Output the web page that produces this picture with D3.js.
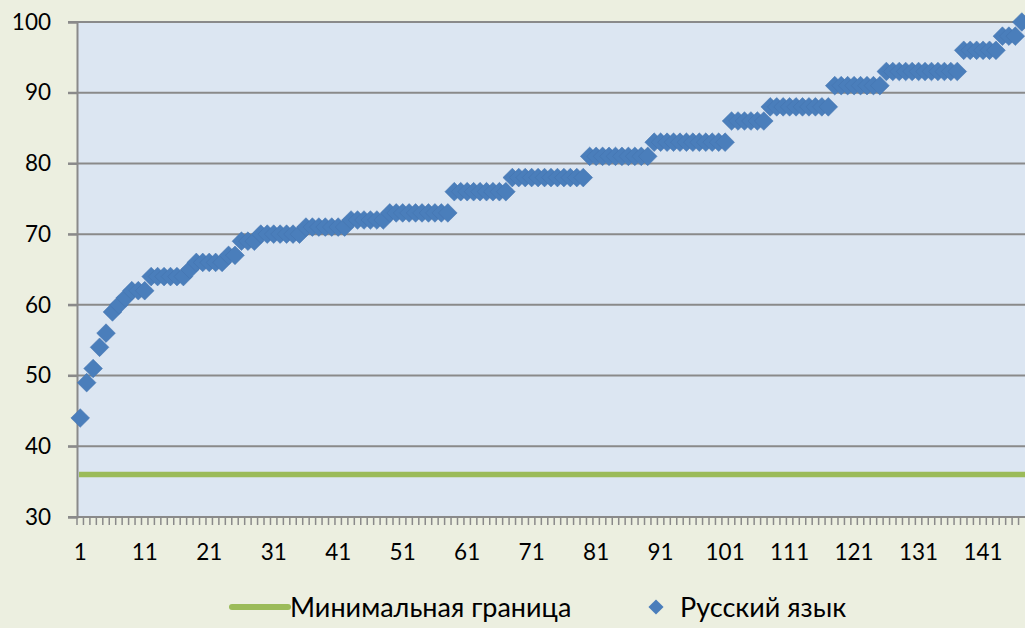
<!DOCTYPE html>
<html><head><meta charset="utf-8">
<script src="https://cdn.jsdelivr.net/npm/d3@7"></script>
<style>html,body{margin:0;padding:0;background:#ECEFE0;}svg{display:block;}</style>
</head><body>
<svg id="c" width="1025" height="628"></svg>
<script>
// Runs of equal scores: [value, count]
const runValues = [44,49,51,54,56,59,60,61,62,64,65,66,67,69,70,71,72,73,76,78,81,83,86,88,91,93,96,98,100];
const runCounts = [ 1, 1, 1, 1, 1, 1, 1, 1, 3, 6, 1, 5, 2, 3, 7, 7, 6,10, 9,12,10,12, 6,10, 8,12, 6, 3, 1];
const minBorder = 36;
const yTicks = [30,40,50,60,70,80,90,100];
const seriesNames = ["Минимальная граница","Русский язык"];

const scores = [];
runValues.forEach((v,k)=>{ for(let j=0;j<runCounts[k];j++) scores.push(v); });
const cats = scores.map((d,i)=>i+1);

const FONT = "Lato, 'Open Sans', sans-serif";
const svg = d3.select("#c");
const L=77, R=1025, T=22, B=517;
const x = d3.scaleBand().domain(cats).range([L,R]).padding(0);
const y = d3.scaleLinear().domain([30,100]).range([B,T]);

svg.append("rect").attr("x",L).attr("y",T).attr("width",R-L).attr("height",B-T).attr("fill","#DCE6F2");

// gridlines
svg.append("g").selectAll("line").data(yTicks.slice(1)).join("line")
  .attr("x1",L-9).attr("x2",R).attr("y1",d=>y(d)).attr("y2",d=>y(d))
  .attr("stroke","#8A8A8A").attr("stroke-width",2);

// y axis
const ya = svg.append("g").attr("transform",`translate(${L},0)`)
  .call(d3.axisLeft(y).tickValues(yTicks).tickSize(9).tickPadding(17));
ya.select(".domain").attr("stroke","#8A8A8A").attr("stroke-width",2);
ya.selectAll(".tick line").attr("stroke","#8A8A8A").attr("stroke-width",2);
ya.selectAll("text").attr("font-family",FONT).attr("font-size",22.5).attr("fill","#000");

// x axis: ticks between categories
const xa = svg.append("g").attr("transform",`translate(0,${B})`);
xa.append("line").attr("x1",L-9).attr("x2",R).attr("y1",0).attr("y2",0).attr("stroke","#8A8A8A").attr("stroke-width",2);
xa.selectAll("line.tk").data(cats).join("line").attr("class","tk")
  .attr("x1",d=>x(d)).attr("x2",d=>x(d)).attr("y1",0).attr("y2",8)
  .attr("stroke","#8A8A8A").attr("stroke-width",1.5);
xa.selectAll("text").data(cats.filter(d=>(d-1)%10===0)).join("text")
  .attr("x",d=>x(d)+x.bandwidth()/2).attr("y",43).attr("text-anchor","middle")
  .attr("font-family",FONT).attr("font-size",22.5).attr("fill","#000")
  .text(d=>d);

// minimum line
svg.append("line").attr("x1",L+2).attr("x2",R).attr("y1",y(minBorder)).attr("y2",y(minBorder))
  .attr("stroke","#9BBB59").attr("stroke-width",5.5);

// diamonds
const diamond = d3.symbol().type(d3.symbolSquare).size(175);
svg.append("g").selectAll("path").data(scores).join("path")
  .attr("d",diamond)
  .attr("transform",(d,i)=>`translate(${x(cats[i])+x.bandwidth()/2},${y(d)}) rotate(45)`)
  .attr("fill","#4A7EBB").attr("stroke","#4575B0").attr("stroke-width",0.5);

// legend
const lg = svg.append("g").attr("font-family",FONT).attr("font-size",27).attr("fill","#000");
lg.append("line").attr("x1",232).attr("x2",288).attr("y1",607).attr("y2",607)
  .attr("stroke","#9BBB59").attr("stroke-width",6).attr("stroke-linecap","round");
lg.append("text").attr("x",290).attr("y",617).text(seriesNames[0]);
lg.append("path").attr("d",d3.symbol().type(d3.symbolSquare).size(115))
  .attr("transform","translate(656,607) rotate(45)").attr("fill","#4A7EBB");
lg.append("text").attr("x",680).attr("y",617).text(seriesNames[1]);
</script>
</body></html>
